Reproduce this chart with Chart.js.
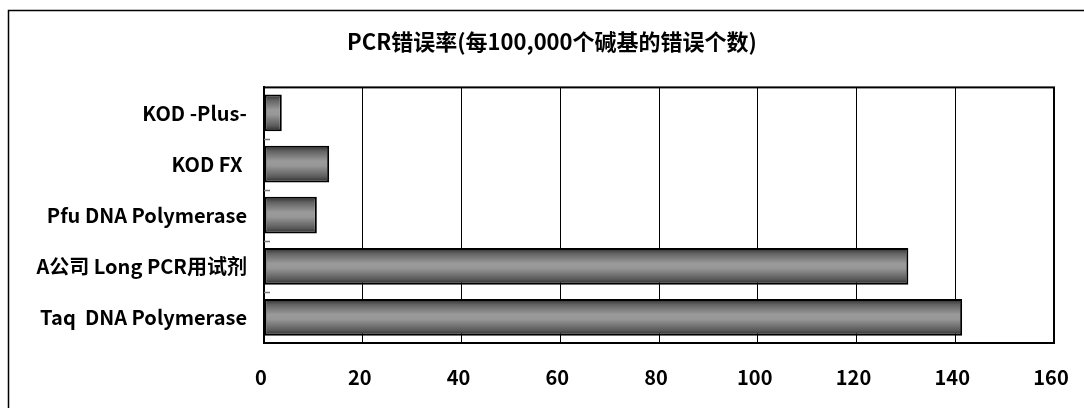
<!DOCTYPE html>
<html>
<head>
<meta charset="utf-8">
<script src="https://cdn.jsdelivr.net/npm/chart.js@4/dist/chart.umd.min.js"></script>
<style>
  body { margin: 0; background: #fff; }
  #chart { display: block; }
</style>
</head>
<body>
<canvas id="chart" width="1084" height="408"></canvas>
<script>
// 数据
const categories = ['KOD -Plus-', 'KOD FX ', 'Pfu DNA Polymerase', 'A公司 Long PCR用试剂', 'Taq  DNA Polymerase'];
const errorRates = [3.6, 13.2, 10.7, 130.5, 141.4];
const xTicks = [0, 20, 40, 60, 80, 100, 120, 140, 160];
const titleText = 'PCR错误率(每100,000个碱基的错误个数)';

const FONT = '"Noto Sans CJK SC", "Noto Sans", sans-serif';
const barFraction = 0.9 * 0.8;

// 每根柱子的竖向渐变
function barGradient(ctx) {
    const chart = ctx.chart;
    const y = chart.scales.y;
    if (!chart.chartArea || !y) return '#888';
    const center = y.getPixelForValue(ctx.dataIndex);
    const half = Math.abs(y.getPixelForValue(1) - y.getPixelForValue(0)) * barFraction / 2;
    const g = chart.ctx.createLinearGradient(0, center - half, 0, center + half);
    g.addColorStop(0, '#2a2a2a');
    g.addColorStop(0.15, '#626262');
    g.addColorStop(0.42, '#9a9a9a');
    g.addColorStop(0.55, '#979797');
    g.addColorStop(0.85, '#5a5a5a');
    g.addColorStop(1, '#262626');
    return g;
}

// 外框、绘图区边框和分类刻度
const framePlugin = {
    id: 'frame',
    beforeDraw(chart) {
        const c = chart.ctx;
        c.save();
        c.strokeStyle = '#000';
        c.lineWidth = 1.5;
        c.beginPath();
        c.moveTo(8.5, chart.height);
        c.lineTo(8.5, 10.5);
        c.lineTo(chart.width, 10.5);
        c.stroke();
        c.restore();
    },
    afterDatasetsDraw(chart) {
        const c = chart.ctx;
        const a = chart.chartArea;
        const y = chart.scales.y;
        c.save();
        c.strokeStyle = '#000';
        c.lineWidth = 2;
        c.strokeRect(a.left, a.top, a.right - a.left, a.bottom - a.top);
        c.strokeStyle = '#777';
        c.lineWidth = 1.5;
        for (let i = 0; i < categories.length - 1; i++) {
            const py = Math.round((y.getPixelForValue(i) + y.getPixelForValue(i + 1)) / 2) + 0.5;
            c.beginPath();
            c.moveTo(a.left, py);
            c.lineTo(a.left + 6, py);
            c.stroke();
        }
        c.restore();
    }
};

new Chart(document.getElementById('chart').getContext('2d'), {
    type: 'bar',
    data: {
        labels: categories,
        datasets: [{
            data: errorRates,
            backgroundColor: barGradient,
            borderColor: '#000',
            borderWidth: 2,
            borderSkipped: false,
            barPercentage: 0.9,
            categoryPercentage: 0.8
        }]
    },
    options: {
        indexAxis: 'y',
        responsive: false,
        animation: false,
        events: [],
        layout: { padding: { left: 20, right: 0, top: 0, bottom: 0 } },
        plugins: {
            legend: { display: false },
            tooltip: { enabled: false },
            title: {
                display: true,
                text: titleText,
                color: '#000',
                font: { family: FONT, size: 22, weight: 'bold', lineHeight: 1.2 },
                padding: { top: 28, bottom: 33 }
            }
        },
        scales: {
            x: {
                type: 'linear',
                min: 0,
                max: 160,
                afterBuildTicks(scale) {
                    scale.ticks = xTicks.map(v => ({ value: v }));
                },
                afterFit(scale) { scale.height = 65; },
                grid: { color: '#000', lineWidth: 1, drawTicks: true, tickLength: 19, tickColor: 'rgba(0,0,0,0)' },
                border: { display: true, color: '#000', width: 2 },
                ticks: {
                    color: '#000',
                    padding: 3,
                    labelOffset: -3,
                    font: { family: FONT, size: 20, weight: 'bold' }
                }
            },
            y: {
                type: 'category',
                afterFit(scale) { scale.width = 244; },
                grid: { display: false, drawTicks: false },
                border: { display: true, color: '#000', width: 2 },
                ticks: {
                    color: '#000',
                    padding: 17,
                    font: { family: FONT, size: 20, weight: 'bold' }
                }
            },
            right: {
                type: 'linear',
                position: 'right',
                afterFit(scale) { scale.width = 30; },
                grid: { display: false, drawTicks: false },
                border: { display: false },
                ticks: { display: false }
            }
        }
    },
    plugins: [framePlugin]
});
</script>
</body>
</html>
